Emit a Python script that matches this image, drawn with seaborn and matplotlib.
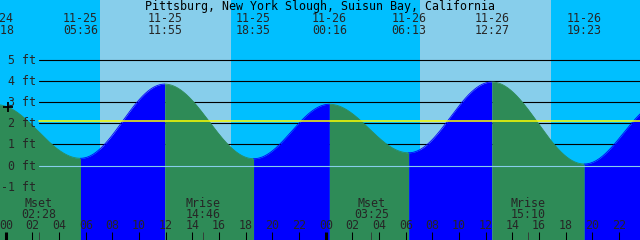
import numpy as np
import pandas as pd
import matplotlib
matplotlib.use("Agg")
import matplotlib.pyplot as plt
from matplotlib.transforms import blended_transform_factory
import seaborn as sns

# ---------------- data ----------------
title = "Pittsburg, New York Slough, Suisun Bay, California"

tide_dates = ["11-24", "11-25", "11-25", "11-25", "11-26", "11-26", "11-26", "11-26", "11-27"]
tide_clock = ["23:18", "05:36", "11:55", "18:35", "00:16", "06:13", "12:27", "19:23", "01:17"]
tide_heights = [2.87, 0.34, 3.84, 0.32, 2.89, 0.60, 3.94, 0.07, 3.00]

sun_dates = ["11-25", "11-26"]
sunrise_clock = ["07:03", "07:03"]
sunset_clock = ["16:53", "16:53"]

moon_names = ["Mset", "Mrise", "Mset", "Mrise"]
moon_dates = ["11-25", "11-25", "11-26", "11-26"]
moon_clock = ["02:28", "14:46", "03:25", "15:10"]

ft_levels = [-1, 0, 1, 2, 3, 4, 5]
line_levels = [1, 2, 3, 4, 5]
reference_level = 2.1

marker_date = "11-25"
marker_clock = "00:12"

hour_ticks = list(range(0, 49, 2))

# ---------------- helpers ----------------
def hours(date, clock):
    day = int(date.split("-")[1]) - 25
    hh, mm = clock.split(":")
    return 24 * day + int(hh) + int(mm) / 60.0

tide_t = [hours(d, c) for d, c in zip(tide_dates, tide_clock)]

rows = []
for i in range(len(tide_t) - 1):
    t0, t1 = tide_t[i], tide_t[i + 1]
    h0, h1 = tide_heights[i], tide_heights[i + 1]
    tt = np.linspace(t0, t1, 300)
    hh = h0 + (h1 - h0) * (1 - np.cos(np.pi * (tt - t0) / (t1 - t0))) / 2
    d = "rise" if h1 > h0 else "fall"
    for a, b in zip(tt, hh):
        rows.append((a, b, d, i))
curve = pd.DataFrame(rows, columns=["t", "h", "dir", "seg"])

# ---------------- figure ----------------
sns.set_style("white")
plt.rcParams["font.family"] = ["DejaVu Sans Mono", "DejaVu Sans"]

W, H = 640, 240
fig = plt.figure(figsize=(6.4, 2.4), dpi=100)
ax = fig.add_axes([0, 0, 1, 1])

px_per_hour = 320 / 24.0
px_per_ft = 21.2
zero_row = 165.5
x_left = -5.8 / px_per_hour
x_right = x_left + W / px_per_hour
ax.set_xlim(x_left, x_right)
ybot = -(H - zero_row) / px_per_ft
ytop = zero_row / px_per_ft
ax.set_ylim(ybot, ytop)

NIGHT = "#00BFFF"
DAY = "#87CEEB"
RISE = "#0000FF"
FALL = "#2E8B57"

ax.set_facecolor(NIGHT)
for d, r, s in zip(sun_dates, sunrise_clock, sunset_clock):
    ax.axvspan(hours(d, r), hours(d, s), color=DAY, lw=0, zorder=0)

for lvl in line_levels:
    ax.axhline(lvl, xmin=39 / W, xmax=1, color="black", lw=0.8, zorder=1)

for seg, g in curve.groupby("seg"):
    col = RISE if g["dir"].iloc[0] == "rise" else FALL
    ax.fill_between(g["t"], ybot, g["h"], color=col, lw=0, zorder=2)

sns.lineplot(data=curve, x="t", y="h", hue="dir", units="seg", estimator=None,
             palette={"rise": RISE, "fall": FALL}, legend=False, lw=0.6,
             ax=ax, zorder=3)

ax.axhline(0, xmin=39 / W, xmax=1, color=DAY, lw=0.8, zorder=4)
ax.axhline(reference_level, xmin=39 / W, xmax=1, color="#FFFF00", lw=1.1, zorder=4)

# current-time marker
mt = hours(marker_date, marker_clock)
mh = np.interp(mt, curve["t"], curve["h"])
ax.plot([mt], [mh], marker="+", ms=6.5, mew=1.3, color="black", zorder=6)

ax.set_xticks([])
ax.set_yticks([])
for sp in ax.spines.values():
    sp.set_visible(False)
ax.set_xlabel("")
ax.set_ylabel("")

FS = 8.4
tx = blended_transform_factory(ax.transData, fig.transFigure)
tax = blended_transform_factory(ax.transData, ax.transAxes)
ty = blended_transform_factory(ax.transAxes, ax.transData)

def fy(py):
    return 1 - py / H

fig.text(0.5, fy(10), title, ha="center", va="baseline", fontsize=FS, color="black")

for t, d, c in zip(tide_t, tide_dates, tide_clock):
    if t > x_right:
        continue
    ax.text(t, fy(21.7), d, transform=tx, ha="center", va="baseline", fontsize=FS, zorder=7)
    ax.text(t, fy(34), c, transform=tx, ha="center", va="baseline", fontsize=FS, zorder=7)

for lvl in ft_levels:
    ax.text(36 / W, lvl - 4 / px_per_ft, f"{lvl} ft", transform=ty, ha="right",
            va="baseline", fontsize=FS, zorder=7)

for h in hour_ticks:
    ax.text(h, fy(229.3), f"{h % 24:02d}", transform=tx, ha="center", va="baseline",
            fontsize=FS, zorder=7)
    lw = 2.2 if h % 24 == 0 else 0.75
    ax.plot([h, h], [0, 8 / H], transform=tax, color="black", lw=lw,
            solid_capstyle="butt", zorder=7, clip_on=False)

for n, d, c in zip(moon_names, moon_dates, moon_clock):
    t = hours(d, c)
    ax.text(t, fy(206.7), n, transform=tx, ha="center", va="baseline", fontsize=FS, zorder=7)
    ax.text(t, fy(218.3), c, transform=tx, ha="center", va="baseline", fontsize=FS, zorder=7)
    ax.plot([t, t], [0, 8 / H], transform=tax, color="#333333", lw=0.6,
            solid_capstyle="butt", zorder=7, clip_on=False)

fig.savefig("out.png", dpi=100)
